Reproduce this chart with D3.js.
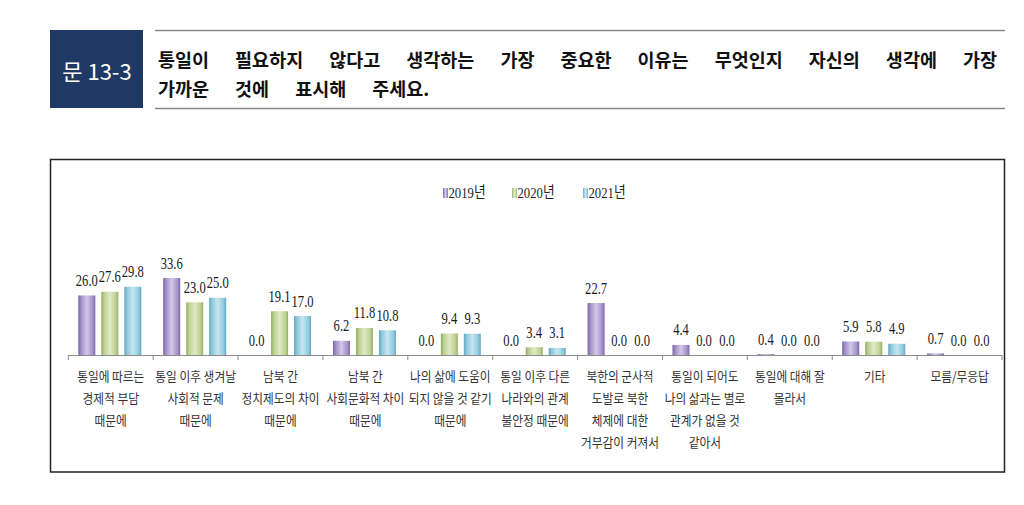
<!DOCTYPE html>
<html><head><meta charset="utf-8">
<script src="https://cdn.jsdelivr.net/npm/d3@7/dist/d3.min.js"></script>
<style>
html,body{margin:0;padding:0;background:#fff;}
svg{display:block;}
</style></head>
<body>
<svg id="c" width="1024" height="505"></svg>
<script>
const categories = [
  ["통일에 따르는","경제적 부담","때문에"],
  ["통일 이후 생겨날","사회적 문제","때문에"],
  ["남북 간","정치제도의 차이","때문에"],
  ["남북 간","사회문화적 차이","때문에"],
  ["나의 삶에 도움이","되지 않을 것 같기","때문에"],
  ["통일 이후 다른","나라와의 관계","불안정 때문에"],
  ["북한의 군사적","도발로 북한","체제에 대한","거부감이 커져서"],
  ["통일이 되어도","나의 삶과는 별로","관계가 없을 것","같아서"],
  ["통일에 대해 잘","몰라서"],
  ["기타"],
  ["모름/무응답"]
];
const seriesNames = ["2019년","2020년","2021년"];
const v2019 = [26.0,33.6,0.0,6.2,0.0,0.0,22.7,4.4,0.4,5.9,0.7];
const v2020 = [27.6,23.0,19.1,11.8,9.4,3.4,0.0,0.0,0.0,5.8,0.0];
const v2021 = [29.8,25.0,17.0,10.8,9.3,3.1,0.0,0.0,0.0,4.9,0.0];
const titleBadge = "문 13-3";
const titleLines = ["통일이 필요하지 않다고 생각하는 가장 중요한 이유는 무엇인지 자신의 생각에 가장","가까운 것에 표시해 주세요."];

const series = [v2019, v2020, v2021];
const palettes = [
  {dark:"#7a64a8", mid:"#a391c9", light:"#d2c8e8"},
  {dark:"#93ad60", mid:"#bdd191", light:"#dfeac6"},
  {dark:"#62a7c0", mid:"#8fcadd", light:"#c6e6f0"}
];

const svg = d3.select("#c");
const defs = svg.append("defs");
palettes.forEach((p,i)=>{
  const g = defs.append("linearGradient").attr("id","g"+i).attr("x1",0).attr("x2",1).attr("y1",0).attr("y2",0);
  g.append("stop").attr("offset","0%").attr("stop-color",p.dark);
  g.append("stop").attr("offset","18%").attr("stop-color",p.mid);
  g.append("stop").attr("offset","50%").attr("stop-color",p.light);
  g.append("stop").attr("offset","85%").attr("stop-color",p.mid);
  g.append("stop").attr("offset","100%").attr("stop-color",p.dark);
});

// ---- Title ----
svg.append("rect").attr("x",50).attr("y",30).attr("width",93).attr("height",78).attr("fill","#203864");
svg.append("text").attr("x",97).attr("y",70).attr("text-anchor","middle").attr("dominant-baseline","central")
  .attr("fill","#fff").style("font-family","'Noto Sans CJK KR'").style("font-size","22px").style("font-weight","400")
  .text(titleBadge);
svg.append("line").attr("x1",155).attr("x2",1005).attr("y1",30.5).attr("y2",30.5).attr("stroke","#8a8a8a").attr("stroke-width",1.5);
svg.append("line").attr("x1",155).attr("x2",1005).attr("y1",108.5).attr("y2",108.5).attr("stroke","#8a8a8a").attr("stroke-width",1.5);
const t1 = svg.append("text").attr("x",158).attr("y",59).attr("dominant-baseline","central")
  .attr("fill","#111").style("font-family","'Noto Sans CJK KR'").style("font-size","18.5px").style("font-weight","700")
  .text(titleLines[0]);
const nat = t1.node().getComputedTextLength();
const nSp = titleLines[0].split(" ").length-1;
const ws = Math.max(0,(839-nat)/nSp);
t1.style("word-spacing", ws+"px");
svg.append("text").attr("x",158).attr("y",88).attr("dominant-baseline","central")
  .attr("fill","#111").style("font-family","'Noto Sans CJK KR'").style("font-size","18.5px").style("font-weight","700")
  .style("word-spacing", ws+"px")
  .text(titleLines[1]);

// ---- Chart frame ----
svg.append("rect").attr("x",50.5).attr("y",159.5).attr("width",954).attr("height",312.5)
  .attr("fill","none").attr("stroke","#222").attr("stroke-width",1.5);

const x0 = d3.scaleBand().domain(d3.range(categories.length)).range([68.3,1002]).padding(0);
const x1 = d3.scaleBand().domain(d3.range(3)).range([10,73]).paddingInner(6/23).paddingOuter(0);
const y = d3.scaleLinear().domain([0,40]).range([355,263.4]);

// bars
const groups = svg.append("g").selectAll("g").data(categories).join("g")
  .attr("transform",(d,i)=>`translate(${x0(i)},0)`);
groups.each(function(d,ci){
  const g = d3.select(this);
  series.forEach((s,si)=>{
    const v = s[ci];
    const bx = x1(si), bw = x1.bandwidth();
    if (v>0){
      g.append("rect").attr("x",bx).attr("y",y(v)).attr("width",bw).attr("height",y(0)-y(v))
        .attr("fill","url(#g"+si+")");
    }
    g.append("text")
      .attr("transform",`translate(${bx+bw/2},${y(v)-9.5}) scale(0.74,1)`)
      .attr("text-anchor","middle")
      .style("font-family","'Liberation Serif'").style("font-size","17px").attr("fill","#1a1a1a")
      .text(d3.format(".1f")(v));
  });
});

// axis
const axis = svg.append("g");
axis.append("line").attr("x1",x0.range()[0]).attr("x2",x0.range()[1]).attr("y1",355.5).attr("y2",355.5)
  .attr("stroke","#8c8c8c").attr("stroke-width",1);
const bounds = d3.range(categories.length+1).map(i=> i<categories.length ? x0(i) : x0.range()[1]);
axis.selectAll("line.tk").data(bounds).join("line").attr("class","tk")
  .attr("x1",d=>d).attr("x2",d=>d).attr("y1",355).attr("y2",360).attr("stroke","#8c8c8c");

// category labels
groups.each(function(d,ci){
  const g = d3.select(this);
  d.forEach((line,li)=>{
    g.append("text")
      .attr("transform",`translate(${x0.bandwidth()/2},${376+li*22}) scale(0.9,1)`)
      .attr("text-anchor","middle").attr("dominant-baseline","central")
      .style("font-family","'Noto Sans CJK KR'").style("font-size","13px").attr("fill","#333")
      .text(line);
  });
});

// legend
const legX = [443,512,583];
const leg = svg.append("g");
seriesNames.forEach((n,i)=>{
  leg.append("rect").attr("x",legX[i]).attr("y",188).attr("width",5).attr("height",10).attr("fill","url(#g"+i+")");
  leg.append("text").attr("transform",`translate(${legX[i]+5.5},193) scale(0.82,1)`)
    .attr("dominant-baseline","central")
    .style("font-family","'Liberation Serif','Noto Sans CJK KR'").style("font-size","15.5px").attr("fill","#222")
    .text(n);
});
</script>
</body></html>
